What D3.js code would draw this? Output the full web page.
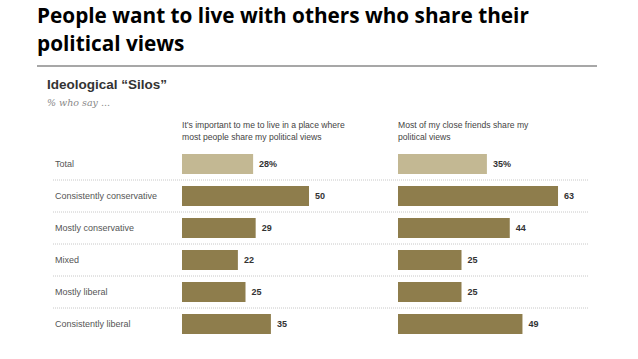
<!DOCTYPE html>
<html><head><meta charset="utf-8">
<script src="https://cdn.jsdelivr.net/npm/d3@7"></script>
<style>html,body{margin:0;padding:0;background:#fff;}</style>
</head><body>
<svg id="c" width="638" height="359"></svg>
<script>
const categories = ["Total","Consistently conservative","Mostly conservative","Mixed","Mostly liberal","Consistently liberal"];
const placeValues = [28,50,29,22,25,35];
const friendsValues = [35,63,44,25,25,49];
const titleLines = ["People want to live with others who share their","political views"];
const chartTitle = "Ideological \u201cSilos\u201d";
const subTitle = "% who say ...";
const header1 = ["It\u2019s important to me to live in a place where","most people share my political views"];
const header2 = ["Most of my close friends share my","political views"];

const svg = d3.select("#c");
const sans = "'Liberation Sans', Arial, sans-serif";

// Main title
const tt = svg.append("text").attr("font-family","'Open Sans', sans-serif").attr("font-weight","bold")
  .attr("font-size",20).attr("fill","#000");
tt.selectAll("tspan").data(titleLines).join("tspan")
  .attr("x",37).attr("y",(d,i)=>23+i*28).text(d=>d);
const l1 = tt.select("tspan").node().getComputedTextLength();
tt.attr("font-size", 20*492/l1);

// top rule
svg.append("line").attr("x1",37).attr("x2",597).attr("y1",66).attr("y2",66)
  .attr("stroke","#8a8a8a").attr("stroke-width",1.5);

svg.append("text").attr("x",47).attr("y",89).attr("font-family",sans).attr("font-weight","bold")
  .attr("font-size",13.5).attr("fill","#333").text(chartTitle);
svg.append("text").attr("x",47).attr("y",106).attr("font-family","'DejaVu Serif', serif").attr("font-style","italic")
  .attr("font-size",9.5).attr("fill","#888").text(subTitle);

const y = d3.scaleBand().domain(categories).range([148,340]).paddingInner(0.375).paddingOuter(0.1875);
const xL = d3.scaleLinear().domain([0,100]).range([182,436]);
const xR = d3.scaleLinear().domain([0,100]).range([398,652]);

function header(lines,x){
  svg.append("g").selectAll("text").data(lines).join("text")
    .attr("x",x).attr("y",(d,i)=>128+i*12).attr("font-family",sans).attr("font-size",8.6)
    .attr("fill","#444").text(d=>d);
}
header(header1,182);
header(header2,398);

svg.append("g").selectAll("line").data(categories.slice(0,-1)).join("line")
  .attr("x1",53).attr("x2",588)
  .attr("y1",d=>y(d)+y.bandwidth()+6).attr("y2",d=>y(d)+y.bandwidth()+6)
  .attr("stroke","#c8c8c8").attr("stroke-width",1).attr("stroke-dasharray","1,1");

svg.append("g").selectAll("text").data(categories).join("text")
  .attr("x",55).attr("y",d=>y(d)+y.bandwidth()/2).attr("dy","0.35em")
  .attr("font-family",sans).attr("font-size",9).attr("fill","#555").text(d=>d);

function bars(vals,x){
  const g = svg.append("g");
  g.selectAll("rect").data(vals).join("rect")
    .attr("x",x(0)).attr("y",(d,i)=>y(categories[i]))
    .attr("width",d=>x(d)-x(0)).attr("height",y.bandwidth())
    .attr("fill",(d,i)=>i===0?"#c3b893":"#8e7d4c");
  g.selectAll("text").data(vals).join("text")
    .attr("x",d=>x(d)+6).attr("y",(d,i)=>y(categories[i])+y.bandwidth()/2).attr("dy","0.35em")
    .attr("font-family",sans).attr("font-weight","bold").attr("font-size",9).attr("fill","#333")
    .text((d,i)=>i===0?d+"%":d);
}
bars(placeValues,xL);
bars(friendsValues,xR);
</script>
</body></html>
